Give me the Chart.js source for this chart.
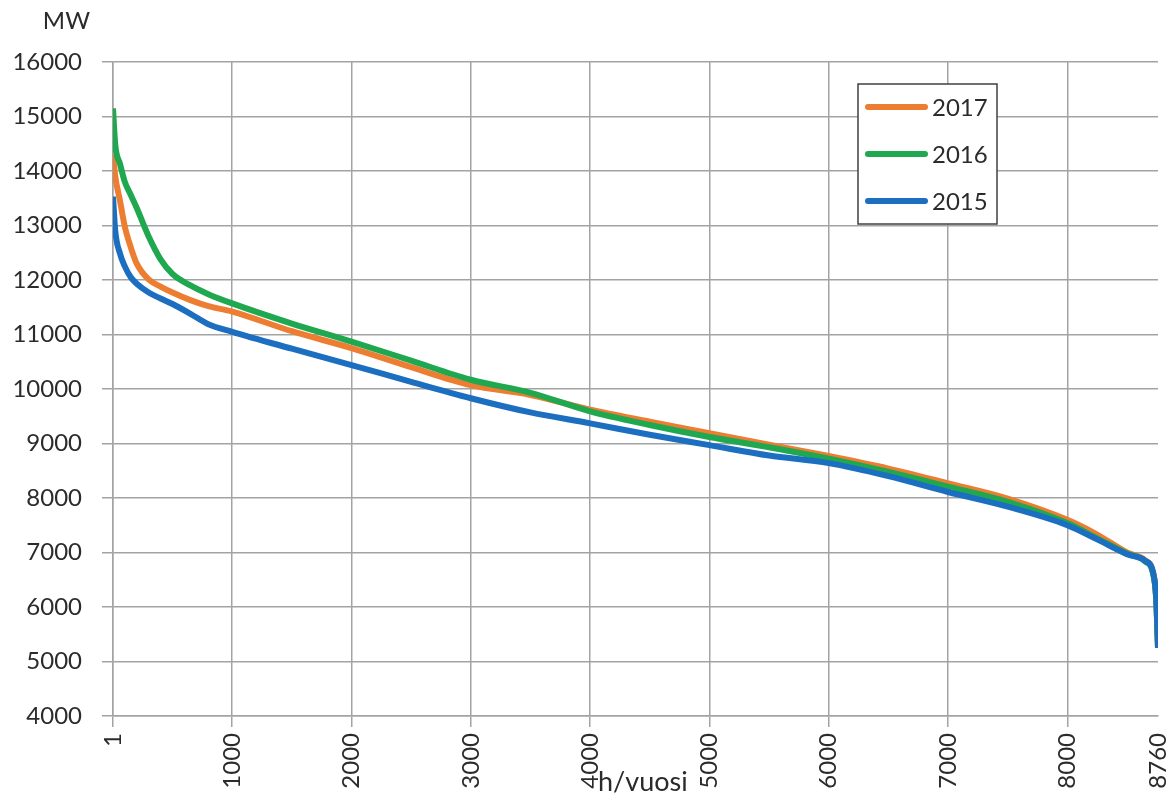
<!DOCTYPE html>
<html>
<head>
<meta charset="utf-8">
<title>Kulutuksen pysyvyyskäyrä</title>
<script src="https://cdn.jsdelivr.net/npm/chart.js@4"></script>
<style>
    body { margin: 0; background: #fff; }
    canvas { display: block; }
</style>
</head>
<body>
<canvas id="myChart" width="1172" height="798"></canvas>
<script>
// tunnit (h/vuosi) ja teho (MW)
const hours = [1, 20, 60, 100, 150, 200, 300, 400, 500, 650, 800, 1000, 1500, 2000, 2500, 3000, 3500, 4000, 4500, 5000, 5500, 6000, 6500, 7000, 7500, 8000, 8250, 8500, 8650, 8720, 8745, 8760];

const load2017 = [14300, 13900, 13450, 12980, 12600, 12300, 12010, 11880, 11770, 11630, 11520, 11420, 11060, 10750, 10400, 10070, 9890, 9620, 9400, 9190, 8980, 8770, 8540, 8270, 7990, 7600, 7330, 7000, 6860, 6620, 6150, 5250];
const load2016 = [15150, 14480, 14130, 13800, 13560, 13320, 12800, 12380, 12110, 11900, 11740, 11570, 11200, 10870, 10520, 10170, 9930, 9590, 9340, 9120, 8930, 8720, 8480, 8210, 7930, 7540, 7260, 6980, 6840, 6600, 6150, 5250];
const load2015 = [13530, 12900, 12480, 12250, 12050, 11930, 11770, 11660, 11560, 11380, 11190, 11050, 10740, 10440, 10130, 9830, 9570, 9370, 9160, 8970, 8780, 8640, 8400, 8110, 7840, 7500, 7240, 6970, 6850, 6620, 6150, 5250];

const xTicks = [1, 1000, 2000, 3000, 4000, 5000, 6000, 7000, 8000, 8760];
const yTicks = [4000, 5000, 6000, 7000, 8000, 9000, 10000, 11000, 12000, 13000, 14000, 15000, 16000];

const FONT = 'Lato, "Open Sans", "Liberation Sans", sans-serif';
const TEXT = '#2b2b2b';
const GRID = '#a3a3a3';


function toPoints(values) {
    return values.map((v, i) => ({ x: hours[i], y: v }));
}


// MW ja h/vuosi tekstit + oma selite
const extraText = {
    id: 'extraText',
    afterDraw(chart) {
        const ctx = chart.ctx;
        ctx.save();
        ctx.fillStyle = TEXT;
        ctx.font = '24px ' + FONT;
        ctx.textBaseline = 'alphabetic';
        ctx.textAlign = 'right';
        ctx.fillText('MW', 90, 29);
        ctx.textAlign = 'left';
        ctx.font = '27px ' + FONT;
        ctx.fillText('h/vuosi', 598, 791);

        // selite
        const box = { x: 858, y: 84, w: 139, h: 140 };
        ctx.font = '24px ' + FONT;
        ctx.fillStyle = '#fff';
        ctx.fillRect(box.x, box.y, box.w, box.h);
        ctx.strokeStyle = '#404040';
        ctx.lineWidth = 1.5;
        ctx.strokeRect(box.x, box.y, box.w, box.h);

        const rows = [107, 154, 201];
        chart.data.datasets.forEach((ds, i) => {
            ctx.strokeStyle = ds.borderColor;
            ctx.lineWidth = 6;
            ctx.lineCap = 'round';
            ctx.beginPath();
            ctx.moveTo(868, rows[i]);
            ctx.lineTo(925, rows[i]);
            ctx.stroke();
            ctx.fillStyle = TEXT;
            ctx.textBaseline = 'middle';
            ctx.fillText(ds.label, 932, rows[i] + 1);
        });
        ctx.restore();
    }
};


function renderChart() {
    const ctx = document.getElementById('myChart');

    new Chart(ctx, {
        type: 'line',
        data: {
            datasets: [{
                label: '2017',
                data: toPoints(load2017),
                borderColor: '#ED7D31',
                order: 2
            }, {
                label: '2016',
                data: toPoints(load2016),
                borderColor: '#1FA84F',
                order: 1
            }, {
                label: '2015',
                data: toPoints(load2015),
                borderColor: '#1C6FC0',
                order: 0
            }]
        },
        options: {
            responsive: false,
            animation: false,
            layout: { padding: { left: 0, right: 14, top: 62, bottom: 0 } },
            elements: {
                line: { borderWidth: 6, cubicInterpolationMode: 'monotone', fill: false },
                point: { radius: 0, hoverRadius: 0 }
            },
            plugins: {
                legend: { display: false },
                tooltip: { enabled: false }
            },
            scales: {
                x: {
                    type: 'linear',
                    min: 1,
                    max: 8760,
                    afterBuildTicks: axis => { axis.ticks = xTicks.map(v => ({ value: v })); },
                    afterFit: axis => {
                        axis.height = 82;
                        axis.paddingLeft = 0;
                        axis.paddingRight = 0;
                    },
                    grid: {
                        color: c => (c.tick && c.tick.value === 8760) ? 'rgba(0,0,0,0)' : GRID,
                        lineWidth: 1.5,
                        tickLength: 11
                    },
                    border: { color: GRID, width: 1.5 },
                    ticks: {
                        autoSkip: false,
                        minRotation: 90,
                        maxRotation: 90,
                        padding: 6,
                        color: TEXT,
                        font: { family: FONT, size: 24 },
                        callback: v => String(v)
                    }
                },
                y: {
                    min: 4000,
                    max: 16000,
                    afterBuildTicks: axis => { axis.ticks = yTicks.map(v => ({ value: v })); },
                    afterFit: axis => { axis.width = 113; },
                    grid: { color: GRID, lineWidth: 1.5, tickLength: 11 },
                    border: { color: GRID, width: 1.5 },
                    ticks: {
                        padding: 20,
                        color: TEXT,
                        font: { family: FONT, size: 24 },
                        callback: v => String(v)
                    }
                }
            }
        },
        plugins: [extraText]
    });
}


renderChart();
</script>
</body>
</html>
